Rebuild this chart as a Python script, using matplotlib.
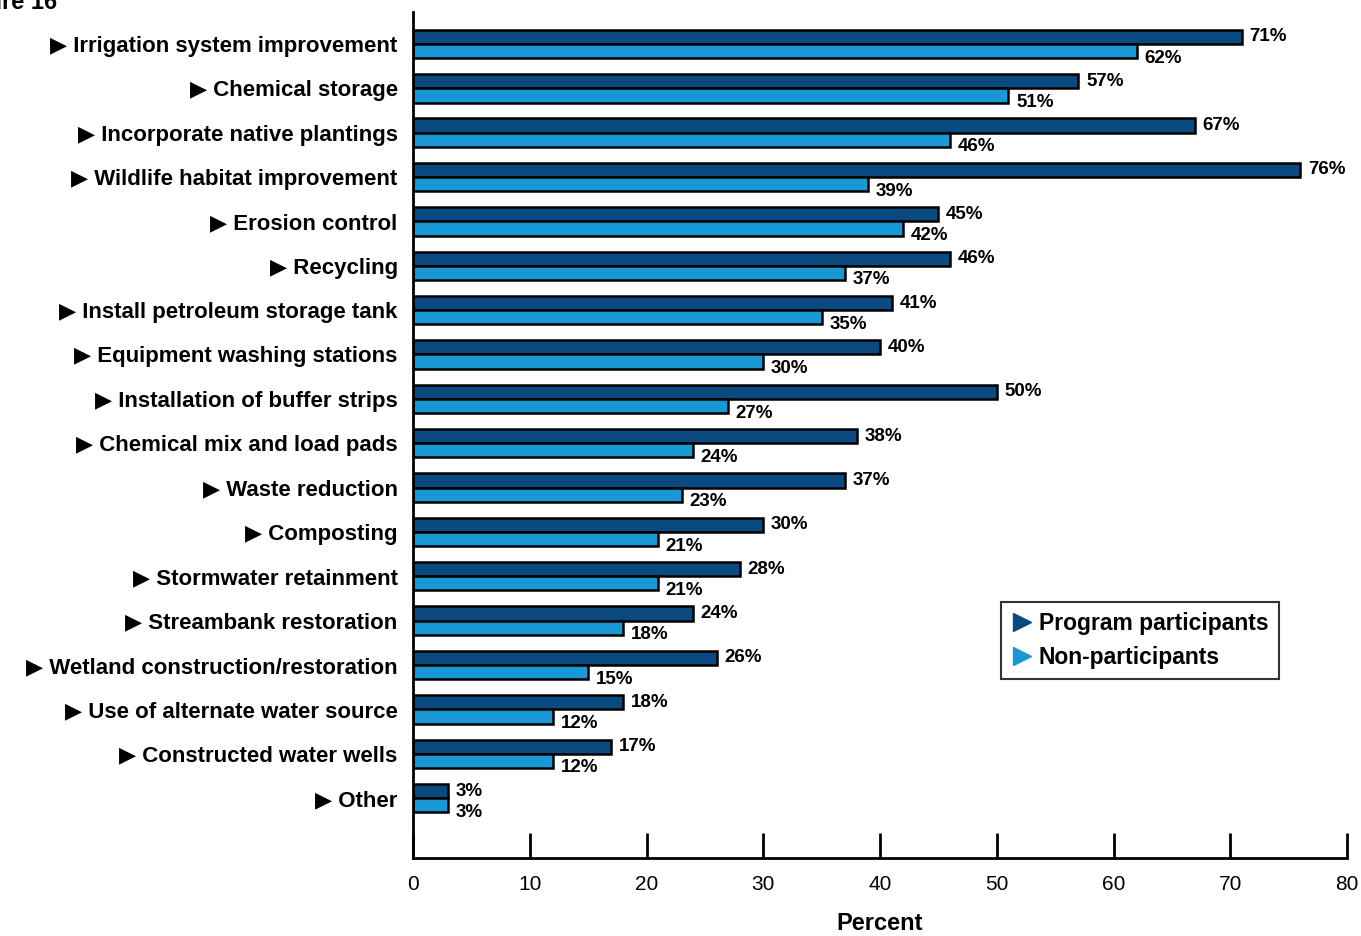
import numpy as np
import matplotlib.pyplot as plt
from matplotlib.lines import Line2D

# Practices and share of respondents (percent)
practices = [
    "Irrigation system improvement",
    "Chemical storage",
    "Incorporate native plantings",
    "Wildlife habitat improvement",
    "Erosion control",
    "Recycling",
    "Install petroleum storage tank",
    "Equipment washing stations",
    "Installation of buffer strips",
    "Chemical mix and load pads",
    "Waste reduction",
    "Composting",
    "Stormwater retainment",
    "Streambank restoration",
    "Wetland construction/restoration",
    "Use of alternate water source",
    "Constructed water wells",
    "Other",
]
participants = [71, 57, 67, 76, 45, 46, 41, 40, 50, 38, 37, 30, 28, 24, 26, 18, 17, 3]
non_participants = [62, 51, 46, 39, 42, 37, 35, 30, 27, 24, 23, 21, 21, 18, 15, 12, 12, 3]

dark = "#0b4a80"
light = "#1898d5"
fam = ["Liberation Sans", "DejaVu Sans"]

fig = plt.figure(figsize=(13.61, 9.36), dpi=100)
ax = fig.add_axes([413 / 1361, 1 - 858 / 936, 934 / 1361, 846 / 936])

y = np.arange(len(practices))
h = 0.32
ax.barh(y - h / 2, participants, height=h, color=dark, edgecolor="black", linewidth=1.8)
ax.barh(y + h / 2, non_participants, height=h, color=light, edgecolor="black", linewidth=1.8)

# value labels
for i in range(len(practices)):
    ax.text(participants[i] + 0.65, y[i] - h / 2, f"{participants[i]}%", va="center",
            ha="left", fontsize=13.5, fontweight="bold", family=fam)
    ax.text(non_participants[i] + 0.65, y[i] + h / 2 + 0.16, f"{non_participants[i]}%",
            va="center", ha="left", fontsize=13.5, fontweight="bold", family=fam)

ax.set_xlim(0, 80)
ax.set_ylim(len(practices) - 1 + 1.35, -0.72)
ax.set_xticks(range(0, 81, 10))
ax.set_xticklabels([str(v) for v in range(0, 81, 10)], family=fam, fontsize=15)
ax.tick_params(axis="x", direction="in", length=18, width=2, pad=12)
ax.set_yticks(y)
ax.set_yticklabels(["\u25B6 " + p for p in practices], fontsize=16, fontweight="bold", family=fam)
ax.tick_params(axis="y", length=0, pad=11)
for s in ["top", "right"]:
    ax.spines[s].set_visible(False)
for s in ["left", "bottom"]:
    ax.spines[s].set_linewidth(2)
ax.set_xlabel("Percent", fontsize=17, fontweight="bold", family=fam, labelpad=13)

handles = [
    Line2D([], [], marker=">", linestyle="none", color=dark, markersize=13),
    Line2D([], [], marker=">", linestyle="none", color=light, markersize=13),
]
leg = ax.legend(handles, ["Program participants", "Non-participants"],
                loc="upper left", bbox_to_anchor=(0.6296, 0.3026), borderaxespad=0,
                frameon=True, fancybox=False, edgecolor="black", handletextpad=0.3,
                handlelength=0.9, borderpad=0.45, labelspacing=0.45,
                prop={"family": fam, "weight": "bold", "size": 16.5})
leg.get_frame().set_linewidth(1.5)

fig.text(57 / 1361, 0.997, "Figure 16", ha="right", va="center", fontsize=17,
         fontweight="bold", family=fam)

fig.savefig("out.png", dpi=100)
